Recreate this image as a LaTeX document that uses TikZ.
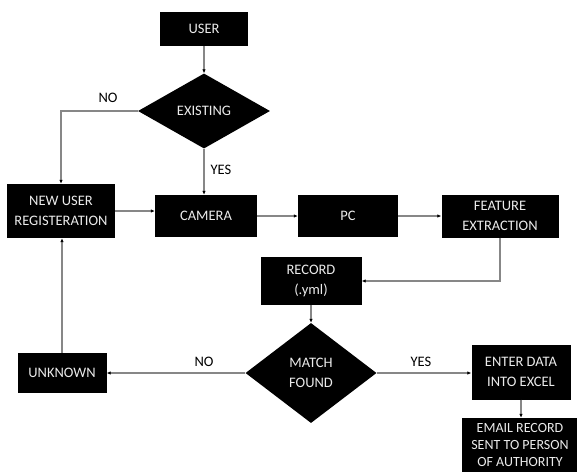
\documentclass[tikz,border=0pt]{standalone}
\usepackage{fontspec}
\setmainfont{Carlito}
\usetikzlibrary{shapes.geometric,arrows.meta}

\definecolor{linegray}{RGB}{135,135,135}
\definecolor{boxtext}{RGB}{235,235,235}

\tikzset{
  blockbox/.style={fill=black, text=boxtext, align=center, inner sep=0pt,
    font=\fontsize{14.5}{19.5}\selectfont},
  choice/.style={diamond, fill=black, text=boxtext, align=center, inner sep=0pt,
    font=\fontsize{14.5}{19.5}\selectfont},
  answer/.style={font=\fontsize{14.5}{19.5}\selectfont},
  flow/.style={draw=linegray, line width=1.1pt, -{Latex[length=4pt,width=3.5pt,black]}}
}

\begin{document}
\begin{tikzpicture}[x=1pt, y=-1pt]
  \useasboundingbox (0,0) rectangle (577,471);
  \clip (0,0) rectangle (577,471);

  % top part
  \node[blockbox, minimum width=88pt, minimum height=34pt] (user) at (204, 29) {USER};
  \node[choice, minimum width=132pt, minimum height=75pt] (exist) at (204, 111) {EXISTING};

  % middle row
  \node[blockbox, minimum width=108pt, minimum height=54pt] (newuser) at (61, 211) {NEW USER\\REGISTERATION};
  \node[blockbox, minimum width=102pt, minimum height=42pt] (camera) at (206, 216) {CAMERA};
  \node[blockbox, minimum width=100pt, minimum height=42pt] (pc) at (348, 216) {PC};
  \node[blockbox, minimum width=117pt, minimum height=43pt] (feature) at (500, 216) {FEATURE\\EXTRACTION};

  % lower part
  \node[blockbox, minimum width=101pt, minimum height=48pt] (record) at (311, 281) {RECORD\\(.yml)};
  \node[choice, minimum width=131pt, minimum height=100pt] (match) at (311, 373) {MATCH\\FOUND};
  \node[blockbox, minimum width=89pt, minimum height=40pt] (unknown) at (62, 373) {UNKNOWN};
  \node[blockbox, minimum width=99pt, minimum height=55pt] (excel) at (521, 372) {ENTER DATA\\INTO EXCEL};
  % bottom box sits on the page edge
  \node[blockbox, minimum width=116pt, minimum height=54pt,
        font=\fontsize{14}{17}\selectfont] (email) at (520, 445) {EMAIL RECORD\\SENT TO PERSON\\OF AUTHORITY};

  % yes / no labels
  \node[answer] (no1) at (108, 98) {NO};
  \node[answer] (yes1) at (221, 170) {YES};
  \node[answer] (no2) at (204, 362) {NO};
  \node[answer] (yes2) at (421, 362) {YES};

  % connectors
  \draw[flow] (user) -- (exist);
  \draw[flow] (exist.west) -| (newuser.north);
  \draw[flow] (exist.south) -- (exist.south |- camera.north);
  \draw[flow] (newuser.east) -- (newuser.east -| camera.west);
  \draw[flow] (camera) -- (pc);
  \draw[flow] (pc) -- (feature);
  \draw[flow] (feature.south) |- (record.east);
  \draw[flow] (record) -- (match);
  \draw[flow] (match.west) -- (unknown.east);
  \draw[flow] (match.east) -- (match.east -| excel.west);
  \draw[flow] (unknown.north) -- (unknown.north |- newuser.south);
  \draw[flow] (excel.south) -- (excel.south |- email.north);
\end{tikzpicture}
\end{document}
